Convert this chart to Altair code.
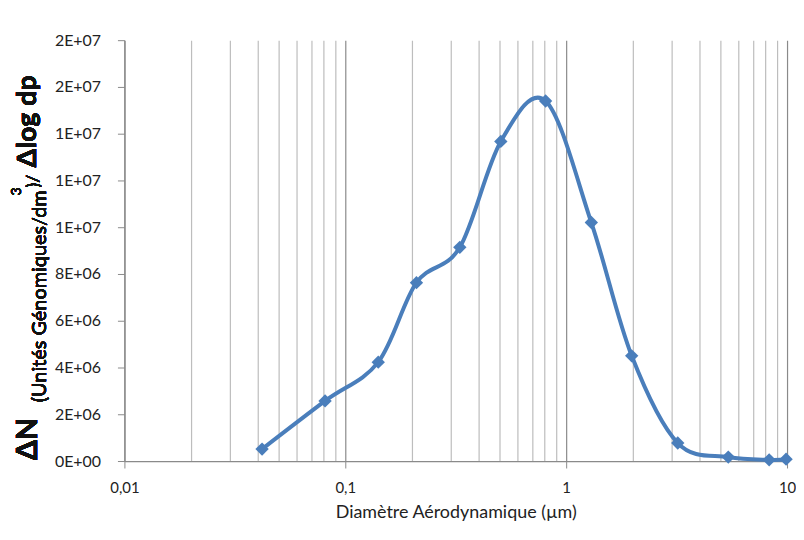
import altair as alt
import pandas as pd

# Data
diameter_um = [0.042, 0.081, 0.141, 0.21, 0.33, 0.506, 0.807, 1.30, 1.98, 3.20, 5.42, 8.3, 9.9]
dN_dlogdp = [0.51e6, 2.57e6, 4.23e6, 7.63e6, 9.14e6, 13.67e6, 15.4e6, 10.2e6, 4.5e6, 0.77e6, 0.17e6, 0.05e6, 0.08e6]

x_ticks = [0.01, 0.02, 0.03, 0.04, 0.05, 0.06, 0.07, 0.08, 0.09,
           0.1, 0.2, 0.3, 0.4, 0.5, 0.6, 0.7, 0.8, 0.9,
           1, 2, 3, 4, 5, 6, 7, 8, 9, 10]
y_ticks = [0, 2e6, 4e6, 6e6, 8e6, 10e6, 12e6, 14e6, 16e6, 18e6]

df = pd.DataFrame({"d": diameter_um, "n": dN_dlogdp})

FONT = "Lato"
BLUE = "#4A7EBB"
decade_test = "datum.value == 0.01 || datum.value == 0.1 || datum.value == 1 || datum.value == 10"

x_enc = alt.X(
    "d:Q",
    scale=alt.Scale(type="log", domain=[0.01, 10], nice=False),
    axis=alt.Axis(
        values=x_ticks,
        labelExpr="datum.value == 0.01 ? '0,01' : datum.value == 0.1 ? '0,1' : datum.value == 1 ? '1' : datum.value == 10 ? '10' : ''",
        grid=True,
        gridColor={"condition": {"test": decade_test, "value": "#8a8a8a"}, "value": "#bdbdbd"},
        gridWidth=1.2,
        tickOpacity={"condition": {"test": decade_test, "value": 1}, "value": 0},
        tickSize=7,
        tickColor="#8a8a8a",
        domainColor="#8a8a8a",
        domainWidth=1.3,
        labelFont=FONT,
        labelFontSize=15,
        labelColor="#222222",
        labelPadding=13,
        labelFlush=False,
        title="Diamètre Aérodynamique (µm)",
        titleFont=FONT,
        titleFontSize=18,
        titleFontWeight="normal",
        titleColor="#222222",
        titlePadding=8,
    ),
)

y_enc = alt.Y(
    "n:Q",
    scale=alt.Scale(domain=[0, 18e6], nice=False),
    axis=alt.Axis(
        values=y_ticks,
        labelExpr="datum.value == 0 ? '0E+00' : (round(datum.value / pow(10, floor(log(datum.value)/LN10 + 1e-9))) + 'E+' + (floor(log(datum.value)/LN10 + 1e-9) < 10 ? '0' : '') + floor(log(datum.value)/LN10 + 1e-9))",
        grid=False,
        tickSize=7,
        tickColor="#8a8a8a",
        domainColor="#8a8a8a",
        domainWidth=1.3,
        labelFont=FONT,
        labelFontSize=16,
        labelColor="#222222",
        labelPadding=17,
        title=None,
    ),
)

line = alt.Chart(df).mark_line(
    color=BLUE, strokeWidth=4, interpolate="cardinal"
).encode(x=x_enc, y=y_enc)

points = alt.Chart(df).mark_point(
    shape="diamond", filled=True, color=BLUE, size=180, opacity=1
).encode(x="d:Q", y="n:Q")

def title_piece(text, x, y, size, weight="normal", align="left"):
    return alt.Chart(df).mark_text(
        angle=270, align=align, baseline="alphabetic",
        font=FONT, fontSize=size, fontWeight=weight, color="#111111"
    ).encode(x=alt.value(x), y=alt.value(y), text=alt.value(text))

t1 = title_piece("ΔN", -88, 401, 29, "bold", "center")
t2 = title_piece("(Unités Génomiques/dm", -79, 364, 20)
t3 = title_piece("3", -104, 156, 14)
t4 = title_piece(")/", -86, 148, 18)
t5 = title_piece("Δlog dp", -89, 128, 27, "bold")

chart = alt.layer(line, points, t1, t2, t3, t4, t5).properties(
    width=666,
    height=423,
    autosize=alt.AutoSizeParams(type="none"),
    padding={"left": 117, "top": 31, "right": 9, "bottom": 70},
    background="white",
).configure_view(stroke=None)

chart.save("out.html", embed_options={"renderer": "svg", "actions": False})
